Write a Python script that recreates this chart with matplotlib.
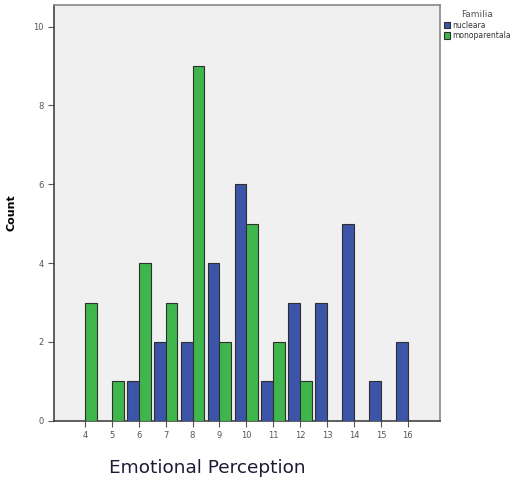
import matplotlib.pyplot as plt
import numpy as np

# datos
puntaje = [4, 5, 6, 7, 8, 9, 10, 11, 12, 13, 14, 15, 16]
nucleara = [0, 0, 1, 2, 2, 4, 6, 1, 3, 3, 5, 1, 2]
monoparentala = [3, 1, 4, 3, 9, 2, 5, 2, 1, 0, 0, 0, 0]
series = ["nucleara", "monoparentala"]
colores = ["#3c55a8", "#3fb64c"]

fig = plt.figure(figsize=(5.19, 4.82), dpi=100)
ax = fig.add_axes([0.104, 0.127, 0.744, 0.863])
ax.set_facecolor("#f0f0f0")

x = np.array(puntaje)
w = 0.44
for i, (vals, col, nom) in enumerate(zip([nucleara, monoparentala], colores, series)):
    vals = np.array(vals)
    m = vals > 0
    pos = x + (i - 0.5) * w
    ax.bar(pos[m], vals[m], width=w, color=col, edgecolor="#2f2f2f",
           linewidth=0.8, label=nom, zorder=3)

ax.set_xlim(2.85, 17.2)
ax.set_ylim(0, 10.55)
ax.set_xticks(puntaje)
ax.set_xticklabels([str(p) for p in puntaje])
ax.set_yticks([0, 2, 4, 6, 8, 10])
ax.tick_params(axis="both", labelsize=6, colors="#555555", length=4, width=0.8)
ax.tick_params(axis="x", pad=3)
for s in ax.spines.values():
    s.set_color("#888888")
    s.set_linewidth(1.2)
ax.spines["left"].set_color("#444444")
ax.spines["bottom"].set_color("#444444")

ax.set_ylabel("Count", fontsize=8, fontweight="bold", labelpad=12)
fig.text(0.399, 0.03, "Emotional Perception", fontsize=13.3,
         family="DejaVu Sans", color="#1b1b35",
         ha="center", va="center")

leg = ax.legend(loc="upper left", bbox_to_anchor=(0.995, 1.0), frameon=False,
                title="Familia", fontsize=5.5, title_fontsize=6.5,
                handlelength=0.9, handleheight=0.9, handletextpad=0.2,
                labelspacing=0.2, borderaxespad=0.3)
leg.get_title().set_color("#555555")
for t in leg.get_texts():
    t.set_color("#333333")

fig.savefig("out.png", dpi=100)
